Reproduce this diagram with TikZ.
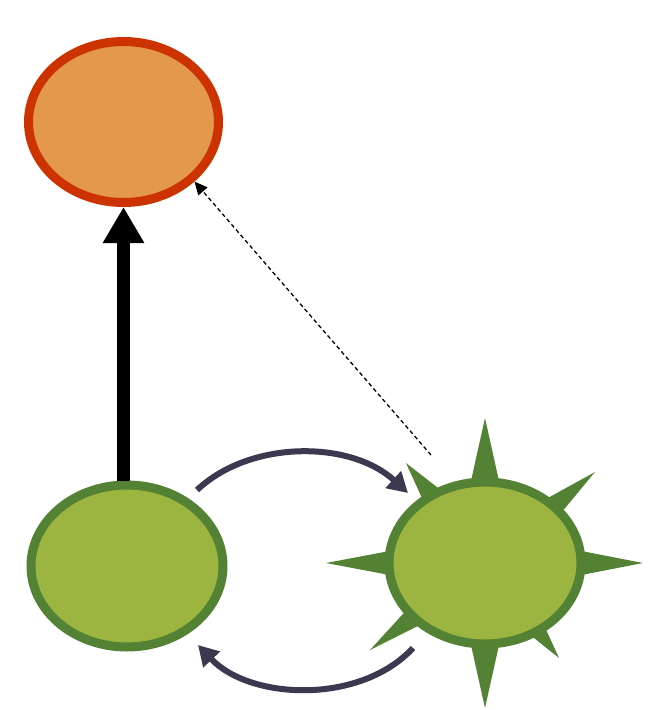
\documentclass[tikz,border=0pt]{standalone}
\usetikzlibrary{arrows.meta,shapes.geometric,calc}
\definecolor{orangefill}{HTML}{E3984D}
\definecolor{redline}{HTML}{CC3300}
\definecolor{greenfill}{HTML}{9BB540}
\definecolor{darkgreen}{HTML}{548235}
\definecolor{navy}{HTML}{3A394F}
\tikzset{
  blob/.style={ellipse, inner sep=0pt, line width=9pt, minimum width=190pt, minimum height=161pt},
  topblob/.style={blob, draw=redline, fill=orangefill},
  greenblob/.style={blob, draw=darkgreen, fill=greenfill, minimum width=192pt, minimum height=162pt},
  bigarrow/.style={line width=13pt, -{Triangle[length=36pt,width=39pt]}},
  hintarrow/.style={line width=1.3pt, dash pattern=on 4pt off 3pt, -{Triangle[length=13pt,width=12pt]}},
  looparrow/.style={navy, line width=6pt, -{Triangle[length=20pt,width=22pt]}},
  spike/.style={fill=darkgreen}
}
\begin{document}
\begin{tikzpicture}[x=1pt,y=-1pt]
\useasboundingbox (0,0) rectangle (654,710);
\node[topblob] (top) at (123.5,122) {};
\node[greenblob] (left) at (127,566) {};
\coordinate (sC) at (485,563);
\foreach \tx/\ty/\r/\h in {485/418/0.566/14, 485/708/0.566/14, 326/563/0.60/12, 643/563/0.61/12,
  406/463/0.68/10, 595/472/0.63/10, 370/650/0.625/10, 559/658/0.72/8}{
  \coordinate (sT) at (\tx,\ty);
  \coordinate (sB) at ($(sC)!\r!(sT)$);
  \fill[spike] ($(sB)!\h pt!90:(sT)$) -- (sT) -- ($(sB)!\h pt!-90:(sT)$) -- cycle;
}
\node[greenblob] (star) at (sC) {};
\draw[bigarrow] (top.south |- left.north) -- (top.south);
\coordinate (hs) at (431,455);
\draw[hintarrow] (hs) -- (top.-40);
\coordinate (u1) at (197,490);
\coordinate (u2) at (408,493);
\coordinate (l1) at (413,648);
\coordinate (l2) at (198,645);
\draw[looparrow] (u1) .. controls (250,440) and (350,440) .. (u2);
\draw[looparrow] (l1) .. controls (360,705) and (250,700) .. (l2);
\end{tikzpicture}
\end{document}
